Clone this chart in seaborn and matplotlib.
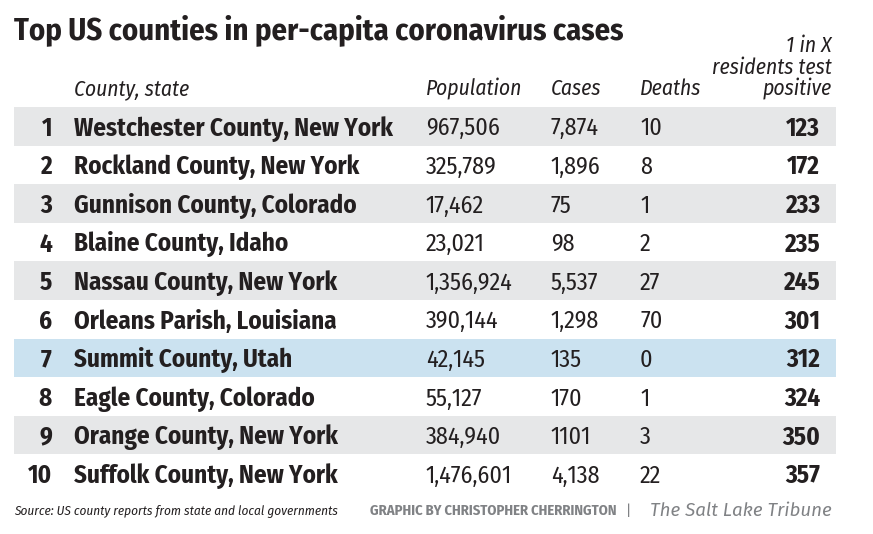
import matplotlib
matplotlib.use("Agg")
import matplotlib.pyplot as plt
import pandas as pd
import seaborn as sns

# Table data
ranks = [1, 2, 3, 4, 5, 6, 7, 8, 9, 10]
counties = ["Westchester County, New York", "Rockland County, New York",
            "Gunnison County, Colorado", "Blaine County, Idaho",
            "Nassau County, New York", "Orleans Parish, Louisiana",
            "Summit County, Utah", "Eagle County, Colorado",
            "Orange County, New York", "Suffolk County, New York"]
population = ["967,506", "325,789", "17,462", "23,021", "1,356,924",
              "390,144", "42,145", "55,127", "384,940", "1,476,601"]
cases = ["7,874", "1,896", "75", "98", "5,537", "1,298", "135", "170", "1101", "4,138"]
deaths = ["10", "8", "1", "2", "27", "70", "0", "1", "3", "22"]
one_in_x = ["123", "172", "233", "235", "245", "301", "312", "324", "350", "357"]
highlight_rank = 7

W, H = 873, 534
sns.set_theme(style="white")
plt.rcParams["font.family"] = ["Fira Sans Condensed", "DejaVu Sans"]

fig = plt.figure(figsize=(W / 100, H / 100), dpi=100)
fig.patch.set_facecolor("white")

# Row bands drawn as horizontal bars
top, row_h = 107, 38.6
ax = fig.add_axes([14 / W, (H - top - 10 * row_h) / H, 822 / W, 10 * row_h / H])
df = pd.DataFrame({"rank": [str(r) for r in ranks], "band": [1.0] * len(ranks)})
band_colors = []
for r in ranks:
    if r == highlight_rank:
        band_colors.append("#c5e3f6")
    elif r % 2 == 1:
        band_colors.append("#e6e7e8")
    else:
        band_colors.append("#ffffff")
sns.barplot(data=df, x="band", y="rank", hue="rank", palette=band_colors,
            width=1.0, legend=False, ax=ax, linewidth=0)
ax.set_xlim(0, 1)
ax.set_ylim(9.5, -0.5)
ax.axis("off")

ink = "#231f20"
bfs, rfs = 18, 17.3
dy = 0.06  # nudge text down a little in each row
for i in range(len(ranks)):
    y = i + dy
    ax.text(0.0462, y, str(ranks[i]), ha="right", va="center", fontsize=bfs,
            fontweight="bold", color=ink)
    ax.text(0.073, y, counties[i], ha="left", va="center", fontsize=bfs,
            fontweight="bold", color=ink)
    ax.text(0.501, y, population[i], ha="left", va="center", fontsize=rfs, color=ink)
    ax.text(0.653, y, cases[i], ha="left", va="center", fontsize=rfs, color=ink)
    ax.text(0.7616, y, deaths[i], ha="left", va="center", fontsize=rfs, color=ink)
    ax.text(0.9805, y, one_in_x[i], ha="right", va="center", fontsize=bfs,
            fontweight="bold", color=ink)

# Title
fig.text(14 / W, 1 - 30 / H, "Top US counties in per-capita coronavirus cases",
         ha="left", va="center", fontsize=22, fontweight="bold", color=ink)

# Column headers
hfs = 15.5
hy = 1 - 89 / H
fig.text(74 / W, hy, "County, state", ha="left", va="center", fontsize=hfs,
         style="italic", color=ink)
fig.text(426 / W, hy, "Population", ha="left", va="center", fontsize=hfs,
         style="italic", color=ink)
fig.text(551 / W, hy, "Cases", ha="left", va="center", fontsize=hfs,
         style="italic", color=ink)
fig.text(640 / W, hy, "Deaths", ha="left", va="center", fontsize=hfs,
         style="italic", color=ink)
for txt, y in [("1 in X", 46), ("residents test", 68), ("positive", 89)]:
    fig.text(832 / W, 1 - y / H, txt, ha="right", va="center", fontsize=hfs,
             style="italic", color=ink)

# Footer
fy = 1 - 511 / H
fig.text(14 / W, fy, "Source: US county reports from state and local governments",
         ha="left", va="center", fontsize=9.5, style="italic", color=ink)
fig.text(370 / W, fy, "GRAPHIC BY CHRISTOPHER CHERRINGTON", ha="left", va="center",
         fontsize=10.5, fontweight="bold", color="#808285")
fig.text(626 / W, fy, "|", ha="left", va="center", fontsize=10.5, color="#808285")
fig.text(832 / W, fy, "The Salt Lake Tribune", ha="right", va="center",
         fontsize=13.5, style="italic", color="#808285",
         family=["Fira Sans", "DejaVu Sans"])

fig.savefig("out.png", dpi=100, facecolor="white")
